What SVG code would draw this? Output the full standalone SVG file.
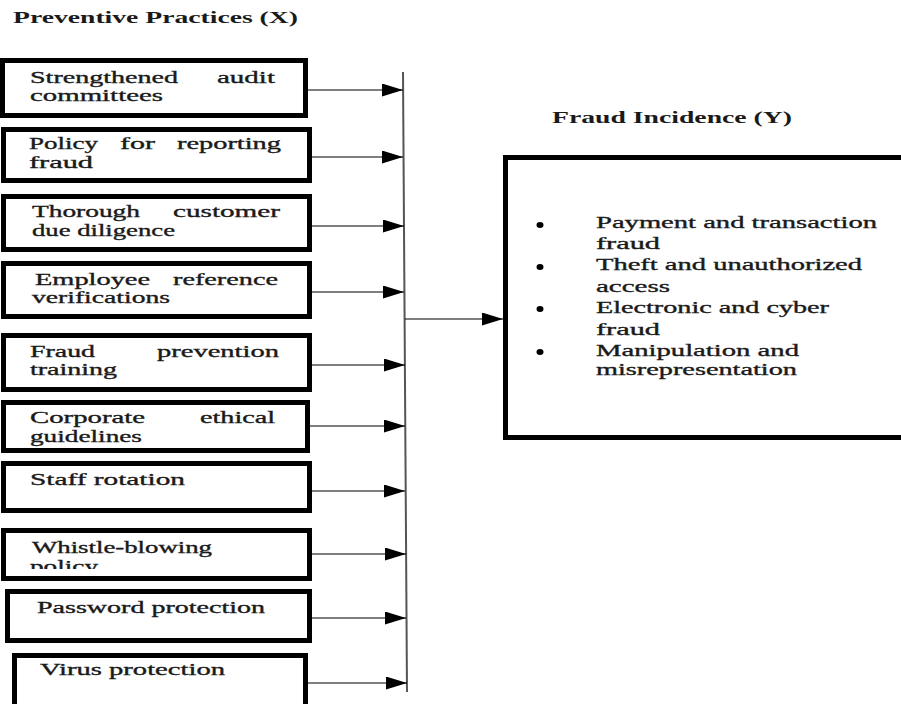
<svg xmlns="http://www.w3.org/2000/svg" width="901" height="704" viewBox="0 0 901 704">
<style>
.box{fill:#fff;stroke:#000;stroke-width:5}
.t{font-family:"Liberation Serif","Times New Roman",serif;font-size:17px;fill:#1a1a1a;stroke:#1a1a1a;stroke-width:0.35}
.h{font-family:"Liberation Serif","Times New Roman",serif;font-size:16px;font-weight:bold;fill:#1a1a1a}
.c{stroke:#000;stroke-width:1.2;fill:none}
</style>
<defs>
<marker id="ah" markerWidth="21" markerHeight="13" refX="21" refY="6.5" orient="auto" markerUnits="userSpaceOnUse">
<path d="M0,0 L21,6.5 L0,13 Z" fill="#000"/>
</marker>
<clipPath id="clip8"><rect x="0" y="528" width="320" height="41"/></clipPath>
</defs>
<rect width="901" height="704" fill="#fff"/>
<text class="h" x="13" y="23" textLength="285" lengthAdjust="spacingAndGlyphs">Preventive Practices (X)</text>
<text class="h" x="552" y="123" textLength="240" lengthAdjust="spacingAndGlyphs">Fraud Incidence (Y)</text>

<g id="n1"><rect class="box" x="2.5" y="60.5" width="303" height="55"/>
<text class="t" x="30" y="83" textLength="148" lengthAdjust="spacingAndGlyphs">Strengthened</text>
<text class="t" x="217" y="83" textLength="58" lengthAdjust="spacingAndGlyphs">audit</text>
<text class="t" x="30" y="101" textLength="133" lengthAdjust="spacingAndGlyphs">committees</text></g>

<g id="n2"><rect class="box" x="3.5" y="129.5" width="306" height="51"/>
<text class="t" x="29" y="149" textLength="69" lengthAdjust="spacingAndGlyphs">Policy</text>
<text class="t" x="120" y="149" textLength="35" lengthAdjust="spacingAndGlyphs">for</text>
<text class="t" x="177" y="149" textLength="104" lengthAdjust="spacingAndGlyphs">reporting</text>
<text class="t" x="29" y="168" textLength="64" lengthAdjust="spacingAndGlyphs">fraud</text></g>

<g id="n3"><rect class="box" x="3.5" y="196.5" width="306" height="53"/>
<text class="t" x="32" y="217" textLength="108" lengthAdjust="spacingAndGlyphs">Thorough</text>
<text class="t" x="173" y="217" textLength="107" lengthAdjust="spacingAndGlyphs">customer</text>
<text class="t" x="32" y="236" textLength="143" lengthAdjust="spacingAndGlyphs">due diligence</text></g>

<g id="n4"><rect class="box" x="3.5" y="263.5" width="306" height="53"/>
<text class="t" x="35" y="285" textLength="115" lengthAdjust="spacingAndGlyphs">Employee</text>
<text class="t" x="173" y="285" textLength="105" lengthAdjust="spacingAndGlyphs">reference</text>
<text class="t" x="32" y="303" textLength="138" lengthAdjust="spacingAndGlyphs">verifications</text></g>

<g id="n5"><rect class="box" x="3.5" y="335.5" width="306" height="54"/>
<text class="t" x="30" y="357" textLength="65" lengthAdjust="spacingAndGlyphs">Fraud</text>
<text class="t" x="157" y="357" textLength="122" lengthAdjust="spacingAndGlyphs">prevention</text>
<text class="t" x="30" y="375" textLength="87" lengthAdjust="spacingAndGlyphs">training</text></g>

<g id="n6"><rect class="box" x="3.5" y="402.5" width="304" height="48"/>
<text class="t" x="30" y="423" textLength="115" lengthAdjust="spacingAndGlyphs">Corporate</text>
<text class="t" x="200" y="423" textLength="75" lengthAdjust="spacingAndGlyphs">ethical</text>
<text class="t" x="30" y="442" textLength="112" lengthAdjust="spacingAndGlyphs">guidelines</text></g>

<g id="n7"><rect class="box" x="3.5" y="463.5" width="306" height="47"/>
<text class="t" x="30" y="485" textLength="155" lengthAdjust="spacingAndGlyphs">Staff rotation</text></g>

<g id="n8"><rect class="box" x="3.5" y="530.5" width="306" height="48"/>
<g clip-path="url(#clip8)">
<text class="t" x="32" y="553" textLength="180" lengthAdjust="spacingAndGlyphs">Whistle-blowing</text>
<text class="t" x="30" y="572" textLength="68" lengthAdjust="spacingAndGlyphs">policy</text></g></g>

<g id="n9"><rect class="box" x="7.5" y="591.5" width="302" height="49"/>
<text class="t" x="37" y="613" textLength="228" lengthAdjust="spacingAndGlyphs">Password protection</text></g>

<g id="n10"><rect class="box" x="14.5" y="655.5" width="291" height="55"/>
<text class="t" x="40" y="675" textLength="185" lengthAdjust="spacingAndGlyphs">Virus protection</text></g>

<g id="y"><rect x="505.5" y="157.5" width="400" height="280" fill="#fff" stroke="#000" stroke-width="5"/>
<g fill="#000">
<ellipse cx="540" cy="225" rx="3.5" ry="3"/>
<ellipse cx="540" cy="267" rx="3.5" ry="3"/>
<ellipse cx="540" cy="309" rx="3.5" ry="3"/>
<ellipse cx="540" cy="352" rx="3.5" ry="3"/>
</g>
<text class="t" x="596" y="228" textLength="281" lengthAdjust="spacingAndGlyphs">Payment and transaction</text>
<text class="t" x="596" y="249" textLength="64" lengthAdjust="spacingAndGlyphs">fraud</text>
<text class="t" x="596" y="270" textLength="266" lengthAdjust="spacingAndGlyphs">Theft and unauthorized</text>
<text class="t" x="596" y="292" textLength="74" lengthAdjust="spacingAndGlyphs">access</text>
<text class="t" x="596" y="313" textLength="233" lengthAdjust="spacingAndGlyphs">Electronic and cyber</text>
<text class="t" x="596" y="335" textLength="64" lengthAdjust="spacingAndGlyphs">fraud</text>
<text class="t" x="596" y="356" textLength="203" lengthAdjust="spacingAndGlyphs">Manipulation and</text>
<text class="t" x="596" y="375" textLength="201" lengthAdjust="spacingAndGlyphs">misrepresentation</text>
</g>

<g id="connectors">
<line x1="403" y1="72" x2="407" y2="692" stroke="#555" stroke-width="2"/>
<line class="c" x1="308" y1="90" x2="403" y2="90" marker-end="url(#ah)"/>
<line class="c" x1="312" y1="157" x2="403" y2="157" marker-end="url(#ah)"/>
<line class="c" x1="312" y1="226" x2="404" y2="226" marker-end="url(#ah)"/>
<line class="c" x1="312" y1="292" x2="404" y2="292" marker-end="url(#ah)"/>
<line class="c" x1="312" y1="365" x2="405" y2="365" marker-end="url(#ah)"/>
<line class="c" x1="310" y1="426" x2="405" y2="426" marker-end="url(#ah)"/>
<line class="c" x1="312" y1="491" x2="405" y2="491" marker-end="url(#ah)"/>
<line class="c" x1="312" y1="554" x2="406" y2="554" marker-end="url(#ah)"/>
<line class="c" x1="312" y1="618" x2="406" y2="618" marker-end="url(#ah)"/>
<line class="c" x1="308" y1="683" x2="407" y2="683" marker-end="url(#ah)"/>
<line class="c" x1="405" y1="319" x2="503" y2="319" marker-end="url(#ah)"/>
</g>
</svg>
